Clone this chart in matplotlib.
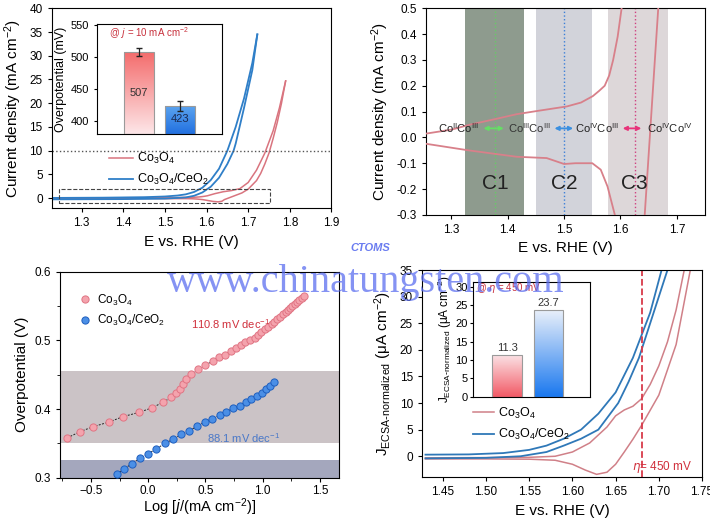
import numpy as np
import matplotlib
matplotlib.use("Agg")
import matplotlib.pyplot as plt
from matplotlib.colors import LinearSegmentedColormap

plt.rcParams['font.family'] = ['Liberation Sans', 'DejaVu Sans']
plt.rcParams['mathtext.default'] = 'regular'
plt.rcParams['xtick.direction'] = 'out'
plt.rcParams['ytick.direction'] = 'out'

# ---- panel a: CV curves (mA cm-2)
co_fwd_E = [1.228, 1.256, 1.30, 1.334, 1.38, 1.416, 1.46, 1.505, 1.53, 1.551, 1.562, 1.572, 1.58, 1.587,
            1.595, 1.602, 1.62, 1.64, 1.66, 1.68, 1.70, 1.72, 1.74, 1.76, 1.775, 1.79]
co_fwd_j = [0.005, 0.015, 0.03, 0.05, 0.072, 0.09, 0.105, 0.12, 0.135, 0.16, 0.18, 0.2, 0.24, 0.3,
            0.39, 0.5, 0.95, 1.35, 1.6, 2.0, 3.3, 5.9, 9.5, 14.2, 19.0, 24.7]
co_rev_E = [1.79, 1.78, 1.77, 1.76, 1.75, 1.74, 1.73, 1.72, 1.70, 1.685, 1.667, 1.655, 1.643, 1.637,
            1.628, 1.615, 1.60, 1.59, 1.577, 1.565, 1.55, 1.52, 1.50, 1.469, 1.416, 1.33, 1.256, 1.228]
co_rev_j = [24.7, 20.0, 16.0, 12.6, 9.5, 7.2, 5.2, 3.7, 1.9, 1.1, 0.5, 0.1, -0.3, -0.65,
            -0.78, -0.68, -0.45, -0.3, -0.19, -0.125, -0.1, -0.1, -0.103, -0.08, -0.075, -0.05, -0.025, -0.02]
ce_fwd_E = [1.228, 1.35, 1.45, 1.50, 1.53, 1.55, 1.57, 1.59, 1.61, 1.63, 1.65, 1.67, 1.69, 1.71, 1.722]
ce_fwd_j = [0.05, 0.1, 0.2, 0.35, 0.55, 0.8, 1.3, 2.2, 3.8, 6.2, 10.0, 15.0, 21.0, 28.5, 34.5]
ce_rev_E = [1.722, 1.71, 1.69, 1.67, 1.665, 1.65, 1.63, 1.61, 1.59, 1.57, 1.55, 1.50, 1.40, 1.228]
ce_rev_j = [34.5, 27.0, 19.0, 11.5, 10.0, 7.2, 4.3, 2.4, 1.2, 0.5, 0.15, -0.1, -0.2, -0.25]

inset_a_names = ['Co3O4', 'Co3O4/CeO2']
inset_a_eta = [507, 423]
inset_a_err = [6, 8]

# ---- panel b: redox regions
regions = [(1.325, 1.428, 'C1'), (1.45, 1.549, 'C2'), (1.577, 1.685, 'C3')]
peak_E = [1.378, 1.5, 1.625]

# ---- panel c: Tafel
tafel_co_x = [-0.706, -0.595, -0.485, -0.343, -0.218, -0.081, 0.038, 0.131, 0.204, 0.247, 0.276, 0.305,
              0.329, 0.378, 0.436, 0.50, 0.567, 0.62, 0.67, 0.72, 0.77, 0.81, 0.85, 0.89, 0.93, 0.96,
              0.99, 1.02, 1.05, 1.08, 1.10, 1.13, 1.15, 1.18, 1.20, 1.22, 1.24, 1.26, 1.28, 1.30, 1.32,
              1.34, 1.36]
tafel_co_y = [0.358, 0.367, 0.374, 0.381, 0.389, 0.395, 0.402, 0.410, 0.417, 0.423, 0.429, 0.436,
              0.444, 0.451, 0.458, 0.464, 0.470, 0.475, 0.479, 0.485, 0.489, 0.493, 0.497, 0.500,
              0.504, 0.508, 0.512, 0.516, 0.520, 0.524, 0.527, 0.531, 0.534, 0.538, 0.541, 0.544,
              0.547, 0.550, 0.553, 0.556, 0.559, 0.562, 0.565]
tafel_ce_x = [-0.276, -0.209, -0.145, -0.072, 0.0, 0.073, 0.146, 0.218, 0.291, 0.358, 0.427, 0.494,
              0.561, 0.625, 0.683, 0.741, 0.799, 0.852, 0.901, 0.950, 0.994, 1.032, 1.067, 1.096]
tafel_ce_y = [0.305, 0.313, 0.320, 0.328, 0.335, 0.342, 0.350, 0.356, 0.363, 0.368, 0.375, 0.381,
              0.386, 0.391, 0.396, 0.401, 0.405, 0.410, 0.415, 0.419, 0.424, 0.429, 0.434, 0.439]

# ---- panel d: ECSA-normalized (uA cm-2)
n_co_fwd_E = [1.43, 1.50, 1.55, 1.58, 1.60, 1.62, 1.64, 1.65, 1.66, 1.67, 1.68, 1.69, 1.70, 1.71, 1.72, 1.73]
n_co_fwd_j = [-0.3, -0.25, -0.2, 0.0, 0.8, 2.5, 5.5, 7.6, 8.7, 9.4, 10.8, 13.5, 17.0, 21.5, 27.5, 35.5]
n_co_rev_E = [1.43, 1.50, 1.55, 1.58, 1.60, 1.615, 1.628, 1.64, 1.65, 1.66, 1.67, 1.68, 1.70, 1.72, 1.737]
n_co_rev_j = [-0.5, -0.5, -0.55, -0.75, -1.5, -2.6, -3.4, -3.0, -1.5, 0.8, 3.2, 5.8, 11.5, 21.0, 35.5]
n_ce_fwd_E = [1.43, 1.48, 1.52, 1.55, 1.57, 1.59, 1.61, 1.63, 1.65, 1.67, 1.69, 1.704]
n_ce_fwd_j = [0.3, 0.35, 0.6, 1.2, 2.0, 3.3, 5.0, 8.0, 12.0, 18.5, 27.0, 35.5]
n_ce_rev_E = [1.43, 1.50, 1.54, 1.57, 1.59, 1.61, 1.63, 1.653, 1.665, 1.677, 1.69, 1.711]
n_ce_rev_j = [-0.4, -0.3, 0.0, 0.8, 2.0, 3.3, 5.0, 10.0, 14.0, 18.5, 25.0, 35.5]
inset_d_j = [11.3, 23.7]

RED = '#d9747f'
BLUE = '#2f7fc8'
JLABEL = 'J$_{ECSA\\text{-}normalized}$ (\u03bcA cm$^{-2}$)'


def grad_bar(ax, x, h, w, top_col, bot_col, bottom=0):
    bar = ax.bar(x, h - bottom, w, bottom=bottom, facecolor='none', edgecolor='#9a9a9a', lw=0.8, zorder=3)[0]
    cmap = LinearSegmentedColormap.from_list('g', [top_col, bot_col])
    grad = np.linspace(0, 1, 100).reshape(-1, 1)
    im = ax.imshow(grad, cmap=cmap, aspect='auto', extent=(x - w / 2, x + w / 2, bottom, h),
                   origin='upper', zorder=2)
    im.set_clip_path(bar)


fig = plt.figure(figsize=(7.1, 5.19), dpi=100)

# ================= panel a
ax1 = fig.add_axes([0.0728, 0.599, 0.394, 0.385])
ax1.plot(co_fwd_E, co_fwd_j, color=RED, lw=1.1, label='Co$_3$O$_4$')
ax1.plot(co_rev_E, co_rev_j, color=RED, lw=1.1)
ax1.plot(ce_fwd_E, ce_fwd_j, color=BLUE, lw=1.3, label='Co$_3$O$_4$/CeO$_2$')
ax1.plot(ce_rev_E, ce_rev_j, color=BLUE, lw=1.3)
ax1.axhline(10, color='#555555', ls=':', lw=1)
ax1.plot([1.246, 1.752, 1.752, 1.246, 1.246], [-1.0, -1.0, 2.0, 2.0, -1.0], color='#444444', ls='--', lw=0.8)
ax1.set_xlim(1.228, 1.9)
ax1.set_ylim(-2.1, 40)
ax1.set_xticks([1.3, 1.4, 1.5, 1.6, 1.7, 1.8, 1.9])
ax1.set_yticks(range(0, 41, 5))
ax1.tick_params(labelsize=8.5, length=3)
ax1.set_xlabel('E vs. RHE (V)', fontsize=11)
ax1.set_ylabel('Current density (mA cm$^{-2}$)', fontsize=11)
ax1.legend(loc='center left', bbox_to_anchor=(0.165, 0.195), frameon=False, fontsize=9,
           handlelength=1.9, handletextpad=0.3, labelspacing=0.5)

axi1 = fig.add_axes([0.1366, 0.742, 0.176, 0.212])
grad_bar(axi1, 1, inset_a_eta[0], 0.72, '#f46d6d', '#fde6e8', bottom=380)
grad_bar(axi1, 2, inset_a_eta[1], 0.72, '#5aa3ef', '#2270e0', bottom=380)
axi1.errorbar([1, 2], inset_a_eta, yerr=inset_a_err, fmt='none', ecolor='#222222', capsize=2, lw=0.9, zorder=4)
axi1.text(1, 443, str(inset_a_eta[0]), ha='center', va='center', fontsize=8, color='#333333', zorder=5)
axi1.text(2, 403, str(inset_a_eta[1]), ha='center', va='center', fontsize=8, color='#1a2a50', zorder=5)
axi1.text(0.3, 536, '@ $\\it{j}$ = 10 mA cm$^{-2}$', fontsize=7, color='#c8303c', va='center')
axi1.set_xlim(0, 3)
axi1.set_ylim(380, 551)
axi1.set_xticks([])
axi1.set_yticks([400, 450, 500, 550])
axi1.tick_params(labelsize=8, length=2.5)
axi1.set_ylabel('Overpotential (mV)', fontsize=9, labelpad=2)

# ================= panel b
ax2 = fig.add_axes([0.600, 0.586, 0.393, 0.398])
band_cols = ['#8e9b8e', '#d2d3da', '#ddd7d9']
for (lo, hi, name), col, pe in zip(regions, band_cols, peak_E):
    ax2.axvspan(lo, hi, color=col, lw=0, zorder=0)
    ax2.text(pe, -0.18, name, ha='center', va='center', fontsize=15, color='#222222', zorder=5)
ax2.axvline(peak_E[0], color='#66cc66', ls=':', lw=1, zorder=1)
ax2.axvline(peak_E[1], color='#3b7fd8', ls=':', lw=1, zorder=1)
ax2.axvline(peak_E[2], color='#d04080', ls=':', lw=1, zorder=1)
ax2.plot(co_fwd_E, co_fwd_j, color='#d8808a', lw=1.3, zorder=3)
ax2.plot(co_rev_E, co_rev_j, color='#d8808a', lw=1.3, zorder=3)
ty = 0.035
ax2.text(1.312, ty, 'Co$^{II}$Co$^{III}$', ha='center', va='center', fontsize=8, color='#222222', zorder=5)
ax2.text(1.438, ty, 'Co$^{III}$Co$^{III}$', ha='center', va='center', fontsize=8, color='#333333', zorder=5)
ax2.text(1.559, ty, 'Co$^{IV}$Co$^{III}$', ha='center', va='center', fontsize=8, color='#222222', zorder=5)
ax2.text(1.687, ty, 'Co$^{IV}$Co$^{IV}$', ha='center', va='center', fontsize=8, color='#222222', zorder=5)
for x0, x1, col in [(1.352, 1.398, '#66dd66'), (1.478, 1.521, '#3b8fe0'), (1.599, 1.642, '#e8337a')]:
    ax2.annotate('', xy=(x0, ty), xytext=(x1, ty),
                 arrowprops=dict(arrowstyle='<|-|>', color=col, lw=1.3, mutation_scale=6), zorder=5)
ax2.set_xlim(1.255, 1.75)
ax2.set_ylim(-0.3, 0.5)
ax2.set_xticks([1.3, 1.4, 1.5, 1.6, 1.7])
ax2.set_yticks(np.arange(-0.3, 0.51, 0.1))
ax2.set_yticklabels(['-0.3', '-0.2', '-0.1', '0.0', '0.1', '0.2', '0.3', '0.4', '0.5'])
ax2.tick_params(labelsize=8.5, length=3)
ax2.set_xlabel('E vs. RHE (V)', fontsize=11)
ax2.set_ylabel('Current density (mA cm$^{-2}$)', fontsize=11)

# ================= panel c
ax3 = fig.add_axes([0.0845, 0.0796, 0.3934, 0.397])
ax3.axhspan(0.35, 0.455, color='#cbc3c6', lw=0, zorder=0)
ax3.axhspan(0.3, 0.326, color='#a4a7bd', lw=0, zorder=0)
ax3.plot(tafel_co_x[:10], tafel_co_y[:10], color='#222222', ls=(0, (2, 1.5)), lw=0.7, zorder=2)
ax3.plot(tafel_co_x[15:], tafel_co_y[15:], color='#222222', ls=(0, (2, 1.5)), lw=0.7, zorder=2)
ax3.plot(tafel_ce_x, tafel_ce_y, color='#222222', ls=(0, (2, 1.5)), lw=0.7, zorder=2)
ax3.plot(tafel_co_x, tafel_co_y, 'o', ms=5.2, mfc='#f4a3ad', mec='#e07584', mew=0.7, ls='none',
         label='Co$_3$O$_4$', zorder=3)
ax3.plot(tafel_ce_x, tafel_ce_y, 'o', ms=5.2, mfc='#4b8fe6', mec='#1f5fbf', mew=0.7, ls='none',
         label='Co$_3$O$_4$/CeO$_2$', zorder=3)
ax3.text(0.72, 0.524, '110.8 mV dec$^{-1}$', color='#d0303c', fontsize=8, ha='center', va='center')
ax3.text(0.83, 0.357, '88.1 mV dec$^{-1}$', color='#4a78c8', fontsize=8, ha='center', va='center')
ax3.set_xlim(-0.77, 1.67)
ax3.set_ylim(0.3, 0.6)
ax3.set_xticks([-0.5, 0.0, 0.5, 1.0, 1.5])
ax3.set_yticks([0.3, 0.4, 0.5, 0.6])
ax3.set_xticks(np.arange(-0.75, 1.7, 0.25), minor=True)
ax3.set_yticks(np.arange(0.3, 0.61, 0.05), minor=True)
ax3.tick_params(labelsize=8.5, length=3)
ax3.tick_params(axis='x', pad=2)
ax3.tick_params(which='minor', length=2)
ax3.set_xlabel('Log [$\\it{j}$/(mA cm$^{-2}$)]', fontsize=10.5, labelpad=0)
ax3.set_ylabel('Overpotential (V)', fontsize=11)
ax3.legend(loc='upper left', bbox_to_anchor=(0.03, 0.95), frameon=False, fontsize=8.5,
           handlelength=1.0, handletextpad=0.5, labelspacing=0.45)

# ================= panel d
ax4 = fig.add_axes([0.5944, 0.0809, 0.3944, 0.3988])
ax4.plot(n_co_fwd_E, n_co_fwd_j, color='#d08088', lw=1.1, label='Co$_3$O$_4$')
ax4.plot(n_co_rev_E, n_co_rev_j, color='#d08088', lw=1.1)
ax4.plot(n_ce_fwd_E, n_ce_fwd_j, color='#2f78b8', lw=1.3, label='Co$_3$O$_4$/CeO$_2$')
ax4.plot(n_ce_rev_E, n_ce_rev_j, color='#2f78b8', lw=1.3)
ax4.axvline(1.68, color='#d83a4a', ls='--', lw=1.3)
ax4.text(1.704, -2.0, '$\\it{\\eta}$= 450 mV', color='#d0303c', fontsize=8.5, ha='center', va='center')
ax4.set_xlim(1.426, 1.75)
ax4.set_ylim(-3.9, 35)
ax4.set_xticks([1.45, 1.50, 1.55, 1.60, 1.65, 1.70, 1.75])
ax4.set_xticklabels(['1.45', '1.50', '1.55', '1.60', '1.65', '1.70', '1.75'])
ax4.set_yticks(range(0, 36, 5))
ax4.tick_params(labelsize=8.5, length=3)
ax4.set_xlabel('E vs. RHE (V)', fontsize=11)
ax4.set_ylabel(JLABEL, fontsize=11)
ax4.legend(loc='center left', bbox_to_anchor=(0.142, 0.256), frameon=False, fontsize=9,
           handlelength=1.7, handletextpad=0.3, labelspacing=0.5)

axi4 = fig.add_axes([0.6666, 0.2356, 0.1644, 0.2216])
grad_bar(axi4, 1, inset_d_j[0], 0.7, '#fbe1e4', '#f25a66')
grad_bar(axi4, 2, inset_d_j[1], 0.7, '#e8effa', '#1a78ef')
axi4.text(1, inset_d_j[0] + 0.6, '%.1f' % inset_d_j[0], ha='center', va='bottom', fontsize=8, color='#333333')
axi4.text(2, inset_d_j[1] + 0.6, '%.1f' % inset_d_j[1], ha='center', va='bottom', fontsize=8, color='#333333')
axi4.text(0.25, 28.8, '@ $\\it{\\eta}$ = 450 mV', fontsize=7, color='#c8303c')
axi4.set_xlim(0.19, 2.99)
axi4.set_ylim(0, 31.4)
axi4.set_xticks([])
axi4.set_yticks(range(0, 31, 5))
axi4.tick_params(labelsize=8, length=2.5, pad=1.5)
axi4.set_ylabel(JLABEL, fontsize=8.5, labelpad=1)

# watermark
fig.text(0.515, 0.455, 'www.chinatungsten.com', fontsize=29, family='Liberation Serif',
         color='#5c6ff0', alpha=0.75, ha='center', va='center', zorder=10)
fig.text(0.521, 0.522, 'CTOMS', fontsize=8, color='#6a7cf0', style='italic', weight='bold',
         ha='center', va='center', zorder=10)

fig.savefig('out.png', dpi=100)
